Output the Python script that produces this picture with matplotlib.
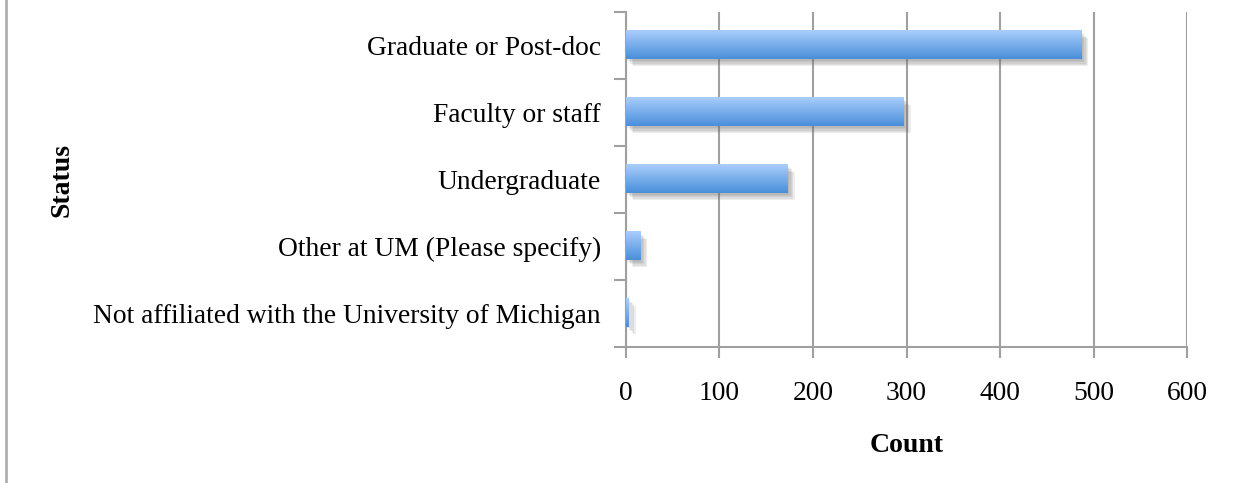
import numpy as np
import matplotlib.pyplot as plt
import matplotlib.patheffects as pe
from matplotlib.colors import LinearSegmentedColormap
from matplotlib.lines import Line2D

# Data (bottom to top)
categories = ["Not affiliated with the University of Michigan",
              "Other at UM (Please specify)",
              "Undergraduate",
              "Faculty or staff",
              "Graduate or Post-doc"]
counts = [3, 15, 173, 297, 487]
x_ticks = [0, 100, 200, 300, 400, 500, 600]

grid_color = "#a0a0a0"
plt.rcParams['font.family'] = ['Liberation Serif', 'DejaVu Serif']

fig = plt.figure(figsize=(12.33, 4.83), dpi=100)
ax = fig.add_axes([0.5077, 0.2826, 0.9627 - 0.5077, 0.9752 - 0.2826])

ypos = np.arange(len(categories))
bars = ax.barh(ypos, counts, height=0.42, color="#7aaeea", zorder=3)

# soft shadow under each bar (a few faint offset copies)
shadow = [pe.SimplePatchShadow(offset=(d, -d), shadow_rgbFace="#707070", alpha=0.12)
          for d in (1, 2, 3, 4, 5)]
for bar in bars:
    bar.set_path_effects(shadow + [pe.Normal()])

# vertical gradient on each bar, light on top, darker at the bottom
cmap = LinearSegmentedColormap.from_list("barblue", ["#4a8fda", "#a9cdfb"])
grad = np.linspace(0, 1, 64).reshape(-1, 1)
for bar in bars:
    x0, y0 = bar.get_x(), bar.get_y()
    ax.imshow(grad, extent=[x0, x0 + bar.get_width(), y0, y0 + bar.get_height()],
              origin="lower", aspect="auto", cmap=cmap, zorder=4)

ax.set_xlim(0, 600)
ax.set_ylim(-0.5, len(categories) - 0.5)

# x axis
ax.set_xticks(x_ticks)
ax.tick_params(axis="x", length=8, width=1.5, color=grid_color, labelsize=19.8, pad=16.5)
ax.grid(axis="x", color=grid_color, linewidth=1.5, zorder=0)

# y axis: ticks between categories, labels centred on bars
ax.set_yticks(np.arange(-0.5, len(categories), 1.0))
ax.set_yticklabels([])
ax.set_yticks(ypos, minor=True)
ax.set_yticklabels(categories, minor=True)
ax.tick_params(axis="y", which="major", length=9, width=1.5, color=grid_color)
ax.tick_params(axis="y", which="minor", length=0, labelsize=19.8, pad=18)

for side in ["top", "right"]:
    ax.spines[side].set_visible(False)
for side in ["left", "bottom"]:
    ax.spines[side].set_color(grid_color)
    ax.spines[side].set_linewidth(1.5)

ax.set_xlabel("Count", fontsize=20, fontweight="bold", labelpad=20)
fig.text(62 / 1233, 1 - 180 / 483, "Status", rotation=90, fontsize=20, fontweight="bold",
         ha="center", va="center")

# frame line on the left edge
fig.add_artist(Line2D([6 / 1233, 6 / 1233], [0, 1], color="#b0b0b0", linewidth=2))

fig.savefig("out.png", dpi=100)
